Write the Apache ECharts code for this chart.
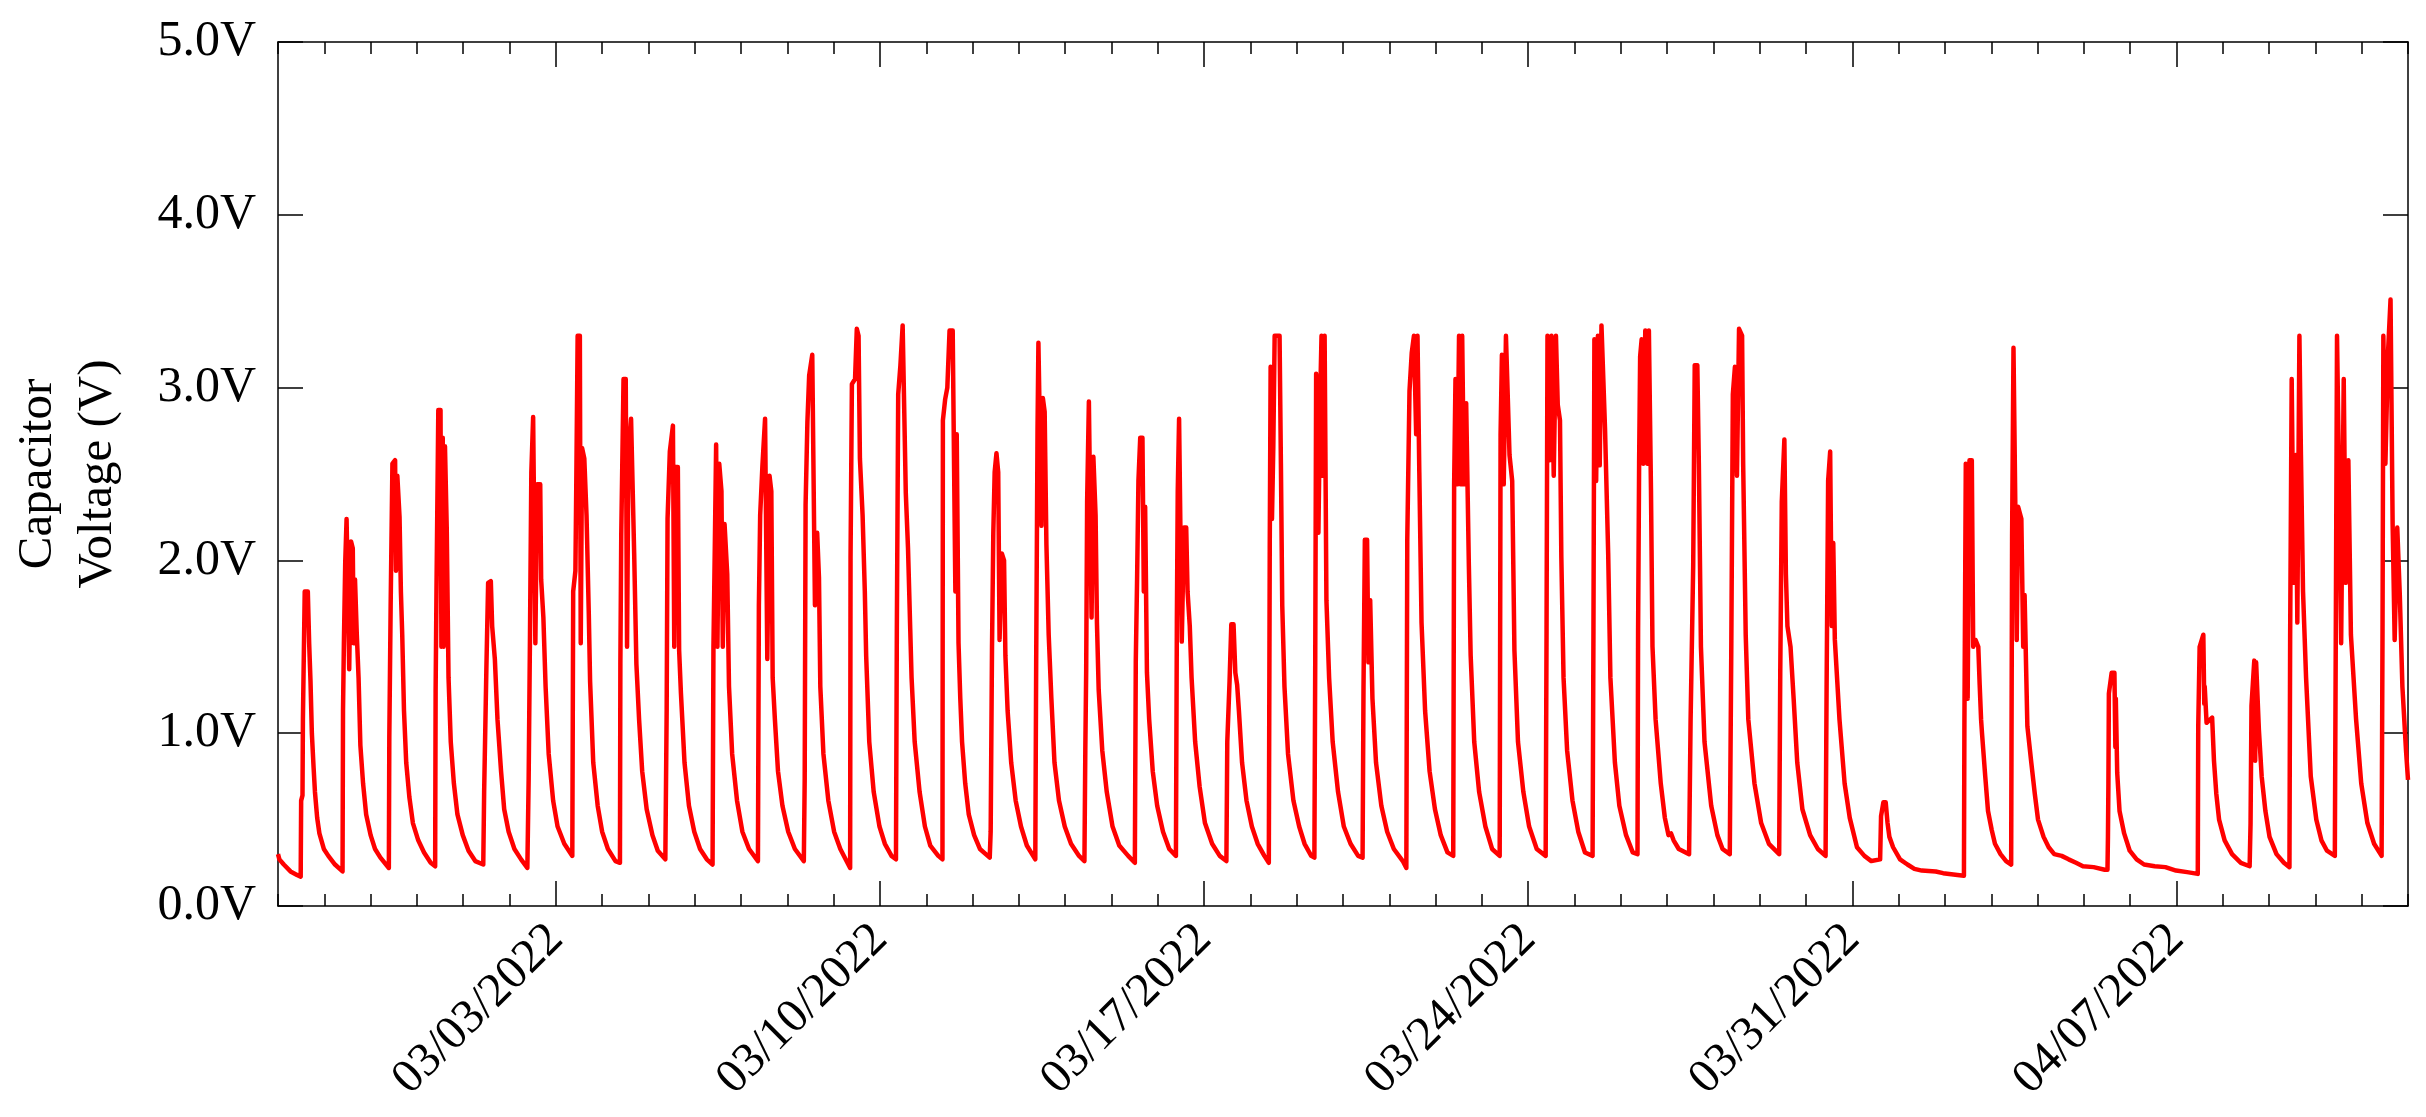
<!DOCTYPE html>
<html><head><meta charset="utf-8">
<script src="https://cdn.jsdelivr.net/npm/echarts@6/dist/echarts.min.js"></script>
<style>html,body{margin:0;padding:0;background:#fff}#c{width:2426px;height:1117px}</style>
</head><body><div id="c"></div>
<script>
// x values: days since 02/25/2022 00:00 ; y values: capacitor voltage (V)
const axisStartDay = 0, axisEndDay = 46;
const majorTickDays = [6, 13, 20, 27, 34, 41];
const majorTickLabels = ['03/03/2022', '03/10/2022', '03/17/2022', '03/24/2022', '03/31/2022', '04/07/2022'];
const yTickValues = [0, 1, 2, 3, 4, 5];
const yTickLabels = ['0.0V', '1.0V', '2.0V', '3.0V', '4.0V', '5.0V'];
const yAxisTitle = 'Capacitor\nVoltage (V)';

const week1 = [
[0.00,0.30],[0.03,0.27],[0.125,0.24],[0.27,0.20],[0.41,0.18],[0.49,0.17],
[0.50,0.61],[0.529,0.64],[0.538,1.08],[0.577,1.82],[0.644,1.82],[0.673,1.52],[0.702,1.30],[0.731,1.00],[0.769,0.80],[0.798,0.66],[0.846,0.51],[0.894,0.42],[0.99,0.33],[1.087,0.29],[1.231,0.24],[1.394,0.20],
[1.404,1.13],[1.423,1.52],[1.452,1.99],[1.481,2.24],[1.519,2.24],[1.538,1.37],[1.577,2.11],[1.615,2.07],[1.635,1.52],[1.663,1.89],[1.702,1.57],[1.74,1.32],[1.779,0.93],[1.837,0.71],[1.904,0.53],[2.00,0.41],[2.096,0.33],[2.212,0.28],[2.394,0.22],
[2.404,0.98],[2.433,1.74],[2.471,2.56],[2.529,2.58],[2.548,1.94],[2.577,2.49],[2.625,2.25],[2.654,1.82],[2.683,1.57],[2.721,1.13],[2.769,0.83],[2.837,0.63],[2.913,0.48],[3.029,0.38],[3.154,0.31],[3.298,0.25],[3.394,0.23],
[3.404,1.24],[3.423,1.84],[3.462,2.87],[3.51,2.87],[3.529,1.50],[3.558,2.71],[3.577,1.50],[3.606,2.66],[3.644,2.19],[3.683,1.32],[3.731,0.95],[3.798,0.71],[3.875,0.53],[3.99,0.41],[4.115,0.32],[4.26,0.26],[4.433,0.24],
[4.452,0.66],[4.50,1.37],[4.538,1.87],[4.596,1.88],[4.625,1.62],[4.683,1.43],[4.74,1.08],[4.817,0.78],[4.885,0.56],[4.981,0.43],[5.106,0.33],[5.25,0.27],[5.385,0.22],
[5.413,0.73],[5.442,1.57],[5.471,2.51],[5.51,2.83],[5.538,2.83],[5.558,1.52],[5.596,2.44],[5.663,2.44],[5.683,1.89],[5.731,1.67],[5.779,1.27],[5.846,0.88],[5.942,0.61],[6.038,0.46],[6.183,0.36],[6.356,0.29]
];
const week2 = [
[6.375,1.82],[6.423,1.94],[6.442,2.45],[6.471,3.30],[6.519,3.30],[6.538,1.52],[6.567,2.65],[6.615,2.59],[6.663,2.26],[6.712,1.69],[6.74,1.30],[6.808,0.83],[6.904,0.58],[7.00,0.43],[7.125,0.33],[7.288,0.26],[7.385,0.25],
[7.394,1.40],[7.413,2.15],[7.462,3.05],[7.51,3.05],[7.538,1.50],[7.567,2.60],[7.625,2.82],[7.663,2.82],[7.692,2.04],[7.74,1.40],[7.798,1.08],[7.865,0.78],[7.962,0.56],[8.087,0.41],[8.202,0.32],[8.365,0.27],
[8.394,1.14],[8.413,2.24],[8.462,2.63],[8.529,2.78],[8.558,1.50],[8.587,2.54],[8.635,2.54],[8.663,1.48],[8.702,1.23],[8.779,0.83],[8.875,0.58],[8.99,0.43],[9.115,0.33],[9.26,0.27],[9.385,0.24],
[9.404,1.50],[9.433,2.07],[9.462,2.67],[9.49,1.50],[9.529,2.56],[9.577,2.40],[9.606,1.50],[9.644,2.21],[9.702,1.92],[9.74,1.27],[9.808,0.88],[9.913,0.61],[10.029,0.43],[10.173,0.33],[10.365,0.26],
[10.385,1.74],[10.413,2.26],[10.462,2.55],[10.519,2.82],[10.548,2.82],[10.567,1.43],[10.615,2.49],[10.654,2.40],[10.683,1.32],[10.731,1.08],[10.798,0.78],[10.894,0.58],[11.019,0.43],[11.163,0.33],[11.356,0.26],
[11.375,0.74],[11.394,2.32],[11.433,2.80],[11.471,3.07],[11.538,3.19],[11.567,3.19],[11.596,1.74],[11.644,2.16],[11.683,1.90],[11.712,1.27],[11.779,0.88],[11.885,0.61],[12.01,0.43],[12.144,0.33],[12.356,0.22],
[12.365,2.02],[12.394,3.02],[12.462,3.05],[12.50,3.34],[12.538,3.30],[12.567,2.59],[12.625,2.26],[12.673,1.82],[12.702,1.45],[12.769,0.95],[12.865,0.66],[12.99,0.46],[13.106,0.36],[13.25,0.29],[13.346,0.27]
];
const week3 = [
[13.365,1.62],[13.394,2.96],[13.442,3.13],[13.49,3.36],[13.529,3.36],[13.558,2.39],[13.606,2.07],[13.654,1.60],[13.683,1.32],[13.75,0.95],[13.856,0.66],[13.971,0.46],[14.087,0.35],[14.26,0.29],[14.35,0.27],
[14.359,2.81],[14.407,2.93],[14.455,3.00],[14.503,3.33],[14.571,3.33],[14.60,2.56],[14.629,1.82],[14.658,2.73],[14.697,1.52],[14.735,1.20],[14.773,0.95],[14.841,0.71],[14.918,0.53],[15.034,0.41],[15.159,0.33],[15.371,0.28],
[15.391,0.43],[15.42,1.50],[15.448,2.16],[15.477,2.51],[15.516,2.62],[15.554,2.51],[15.583,1.54],[15.632,2.04],[15.68,2.00],[15.709,1.45],[15.757,1.13],[15.834,0.83],[15.931,0.61],[16.046,0.46],[16.172,0.35],[16.355,0.27],
[16.374,1.42],[16.403,2.76],[16.422,3.26],[16.461,3.26],[16.489,2.20],[16.518,2.94],[16.557,2.86],[16.595,2.09],[16.644,1.57],[16.702,1.20],[16.769,0.83],[16.866,0.61],[16.991,0.46],[17.126,0.36],[17.30,0.29],[17.416,0.26],
[17.435,0.90],[17.454,1.37],[17.474,2.34],[17.512,2.92],[17.551,2.92],[17.57,1.67],[17.609,2.60],[17.657,2.26],[17.686,1.64],[17.724,1.25],[17.801,0.90],[17.898,0.66],[18.023,0.46],[18.168,0.35],[18.361,0.29],[18.505,0.25],
[18.525,1.42],[18.553,1.89],[18.582,2.46],[18.621,2.71],[18.669,2.71],[18.698,1.82],[18.727,2.31],[18.766,1.35],[18.814,1.08],[18.891,0.78],[18.987,0.58],[19.113,0.43],[19.248,0.33],[19.392,0.29],
[19.412,1.64],[19.431,2.40],[19.46,2.82],[19.499,2.82],[19.518,1.53],[19.566,2.19],[19.614,2.19],[19.643,1.82],[19.691,1.62],[19.73,1.32],[19.807,0.95],[19.904,0.69],[20.019,0.48],[20.174,0.36],[20.338,0.29],[20.482,0.26]
];
const week4 = [
[20.501,0.95],[20.55,1.30],[20.588,1.63],[20.636,1.63],[20.675,1.35],[20.714,1.28],[20.752,1.13],[20.82,0.83],[20.916,0.61],[21.032,0.46],[21.157,0.36],[21.302,0.29],[21.398,0.25],
[21.418,2.07],[21.437,3.12],[21.466,2.24],[21.495,2.66],[21.524,3.30],[21.63,3.30],[21.659,2.56],[21.688,1.74],[21.736,1.27],[21.813,0.88],[21.929,0.61],[22.054,0.46],[22.17,0.36],[22.314,0.29],[22.382,0.28],
[22.401,1.45],[22.42,3.08],[22.469,2.16],[22.507,2.94],[22.536,3.30],[22.565,2.49],[22.603,3.30],[22.642,1.77],[22.70,1.32],[22.777,0.95],[22.893,0.66],[23.018,0.46],[23.163,0.36],[23.327,0.29],[23.423,0.28],
[23.443,1.27],[23.472,2.12],[23.52,2.12],[23.549,1.41],[23.587,1.77],[23.636,1.20],[23.713,0.83],[23.828,0.58],[23.954,0.43],[24.098,0.33],[24.291,0.26],[24.368,0.22],
[24.388,2.12],[24.436,2.98],[24.484,3.20],[24.532,3.30],[24.58,2.73],[24.609,3.30],[24.648,2.51],[24.696,1.64],[24.773,1.13],[24.87,0.78],[24.986,0.56],[25.111,0.41],[25.256,0.31],[25.381,0.29],
[25.40,2.44],[25.429,3.05],[25.468,2.44],[25.506,3.30],[25.545,2.44],[25.574,3.30],[25.612,2.44],[25.66,2.91],[25.718,1.97],[25.757,1.45],[25.834,0.95],[25.94,0.66],[26.075,0.46],[26.22,0.33],[26.384,0.29],
[26.403,2.73],[26.432,3.19],[26.471,2.44],[26.519,3.30],[26.557,3.30],[26.596,2.61],[26.654,2.46],[26.702,1.48],[26.779,0.95],[26.895,0.66],[27.02,0.46],[27.184,0.33],[27.377,0.29]
];
const week5 = [
[27.396,1.60],[27.416,3.30],[27.464,2.58],[27.503,3.30],[27.551,2.49],[27.599,3.30],[27.638,2.90],[27.686,2.81],[27.715,2.02],[27.763,1.32],[27.84,0.90],[27.956,0.61],[28.081,0.43],[28.226,0.31],[28.39,0.29],
[28.409,1.60],[28.429,3.28],[28.467,2.46],[28.505,3.30],[28.544,2.55],[28.582,3.36],[28.621,3.35],[28.659,2.76],[28.698,2.76],[28.727,2.04],[28.775,1.32],[28.872,0.83],[28.968,0.58],[29.113,0.41],[29.257,0.31],[29.36,0.30],
[29.373,1.60],[29.395,2.56],[29.417,3.18],[29.45,3.28],[29.484,2.56],[29.528,3.33],[29.573,2.56],[29.606,3.33],[29.651,2.41],[29.684,1.50],[29.751,1.08],[29.862,0.71],[29.951,0.51],[30.029,0.41],[30.085,0.42],[30.14,0.38],[30.251,0.33],[30.474,0.30],
[30.507,1.08],[30.563,1.97],[30.596,3.13],[30.652,3.13],[30.685,2.56],[30.73,1.50],[30.807,0.95],[30.952,0.58],[31.085,0.41],[31.197,0.33],[31.353,0.30],
[31.386,1.50],[31.419,2.96],[31.464,3.12],[31.508,2.49],[31.553,3.34],[31.619,3.30],[31.642,2.56],[31.697,1.57],[31.753,1.08],[31.886,0.71],[32.031,0.48],[32.198,0.36],[32.42,0.30],
[32.443,1.35],[32.476,2.34],[32.532,2.70],[32.565,1.92],[32.598,1.62],[32.665,1.50],[32.732,1.20],[32.81,0.83],[32.921,0.56],[33.088,0.41],[33.255,0.33],[33.422,0.29],
[33.444,1.27],[33.477,2.46],[33.521,2.63],[33.555,1.62],[33.588,2.10],[33.622,1.54],[33.722,1.08],[33.833,0.71],[33.944,0.51],[34.10,0.34],[34.26,0.29],[34.41,0.26],[34.60,0.27]
];
const week6 = [
[34.62,0.52],[34.67,0.60],[34.72,0.60],[34.76,0.48],[34.80,0.40],[34.88,0.34],[35.03,0.27],[35.19,0.24],[35.34,0.215],[35.50,0.205],[35.80,0.20],[35.96,0.19],[36.27,0.18],[36.41,0.175],
[36.42,1.05],[36.45,2.56],[36.49,1.20],[36.53,2.58],[36.58,2.58],[36.61,1.50],[36.66,1.54],[36.72,1.50],[36.75,1.28],[36.78,1.08],[36.80,1.00],[36.87,0.75],[36.93,0.55],[37.01,0.44],[37.08,0.36],[37.20,0.30],[37.32,0.26],[37.43,0.24],
[37.45,2.14],[37.48,3.23],[37.52,2.31],[37.55,1.54],[37.58,2.31],[37.65,2.24],[37.69,1.50],[37.72,1.80],[37.75,1.41],[37.78,1.04],[37.86,0.84],[37.94,0.65],[38.01,0.50],[38.13,0.40],[38.24,0.34],[38.36,0.30],[38.52,0.29],[38.67,0.27],[38.83,0.25],[38.98,0.23],[39.21,0.225],[39.45,0.21],[39.51,0.21],
[39.52,0.40],[39.53,0.71],[39.54,1.23],[39.60,1.35],[39.66,1.35],[39.68,0.92],[39.69,1.20],[39.72,0.77],[39.77,0.55],[39.87,0.42],[39.99,0.32],[40.14,0.27],[40.30,0.24],[40.53,0.23],[40.76,0.225],[40.99,0.205],[41.23,0.196],[41.46,0.186],
[41.47,1.04],[41.50,1.50],[41.58,1.57],[41.60,1.17],[41.61,1.27],[41.65,1.06],[41.77,1.09],[41.81,0.84],[41.86,0.65],[41.92,0.50],[42.04,0.38],[42.20,0.30],[42.39,0.25],[42.58,0.23],
[42.60,0.48],[42.62,1.16],[42.68,1.42],[42.70,0.84],[42.72,1.41],[42.78,1.02],[42.84,0.75],[42.92,0.55],[43.01,0.40],[43.16,0.30],[43.32,0.25],[43.44,0.225],
[43.455,1.57],[43.488,3.05],[43.533,1.87],[43.577,2.61],[43.61,1.64],[43.655,3.30],[43.688,2.61],[43.733,1.82],[43.799,1.32],[43.90,0.75],[44.02,0.50],[44.13,0.38],[44.25,0.32],[44.42,0.29]
];
const week7 = [
[44.44,1.54],[44.467,3.30],[44.523,2.24],[44.556,1.52],[44.612,3.05],[44.656,1.87],[44.712,2.58],[44.767,1.57],[44.879,1.08],[44.99,0.71],[45.123,0.48],[45.268,0.36],[45.43,0.29],
[45.45,1.60],[45.468,3.30],[45.512,2.56],[45.568,3.20],[45.623,3.51],[45.668,2.21],[45.712,1.54],[45.768,2.19],[45.823,1.80],[45.879,1.27],[45.957,0.90],[46.00,0.73]
];

const seriesData = [].concat(week1, week2, week3, week4, week5, week6, week7);

const FONT = 'Liberation Serif';
const black = '#000';
const tickStyle = { color: black, width: 1.5 };
const majorLabel = v => {
  const i = majorTickDays.indexOf(v);
  return i >= 0 ? majorTickLabels[i] : '';
};
const yLabel = v => {
  const i = yTickValues.indexOf(v);
  return i >= 0 ? yTickLabels[i] : '';
};
const baseX = { type: 'value', min: axisStartDay, max: axisEndDay, interval: 1, splitLine: { show: false } };
const baseY = { type: 'value', min: 0, max: 5, interval: 1, splitLine: { show: false } };

const chart = echarts.init(document.getElementById('c'), null, { renderer: 'canvas' });
chart.setOption({
  animation: false,
  backgroundColor: '#fff',
  grid: { left: 276, right: 18, top: 42, bottom: 211 },
  xAxis: [
    Object.assign({}, baseX, { position: 'bottom',
      axisLine: { show: true, onZero: false, lineStyle: tickStyle },
      axisTick: { show: true, inside: true, length: 12, lineStyle: tickStyle },
      axisLabel: { show: true, rotate: 45, margin: 26, customValues: majorTickDays, formatter: majorLabel,
        fontFamily: FONT, fontSize: 48, color: black } }),
    Object.assign({}, baseX, { position: 'bottom',
      axisLine: { show: false, onZero: false },
      axisTick: { show: true, inside: true, length: 25, customValues: majorTickDays, lineStyle: tickStyle },
      axisLabel: { show: false } }),
    Object.assign({}, baseX, { position: 'top',
      axisLine: { show: true, onZero: false, lineStyle: tickStyle },
      axisTick: { show: true, inside: true, length: 12, lineStyle: tickStyle },
      axisLabel: { show: false } }),
    Object.assign({}, baseX, { position: 'top',
      axisLine: { show: false, onZero: false },
      axisTick: { show: true, inside: true, length: 25, customValues: majorTickDays, lineStyle: tickStyle },
      axisLabel: { show: false } })
  ],
  yAxis: [
    Object.assign({}, baseY, { position: 'left',
      name: yAxisTitle, nameLocation: 'middle', nameGap: 150,
      nameTextStyle: { fontFamily: FONT, fontSize: 49, color: black, lineHeight: 60, align: 'center' },
      axisLine: { show: true, onZero: false, lineStyle: tickStyle },
      axisTick: { show: true, inside: true, length: 25, lineStyle: tickStyle },
      axisLabel: { show: true, margin: 22, formatter: yLabel, fontFamily: FONT, fontSize: 50, color: black } }),
    Object.assign({}, baseY, { position: 'right',
      axisLine: { show: true, onZero: false, lineStyle: tickStyle },
      axisTick: { show: true, inside: true, length: 25, lineStyle: tickStyle },
      axisLabel: { show: false } })
  ],
  series: [{
    type: 'line', xAxisIndex: 0, yAxisIndex: 0,
    data: seriesData, showSymbol: false, symbol: 'none',
    lineStyle: { color: '#ff0000', width: 4.5, join: 'round' },
    clip: true
  }]
});
</script></body></html>
